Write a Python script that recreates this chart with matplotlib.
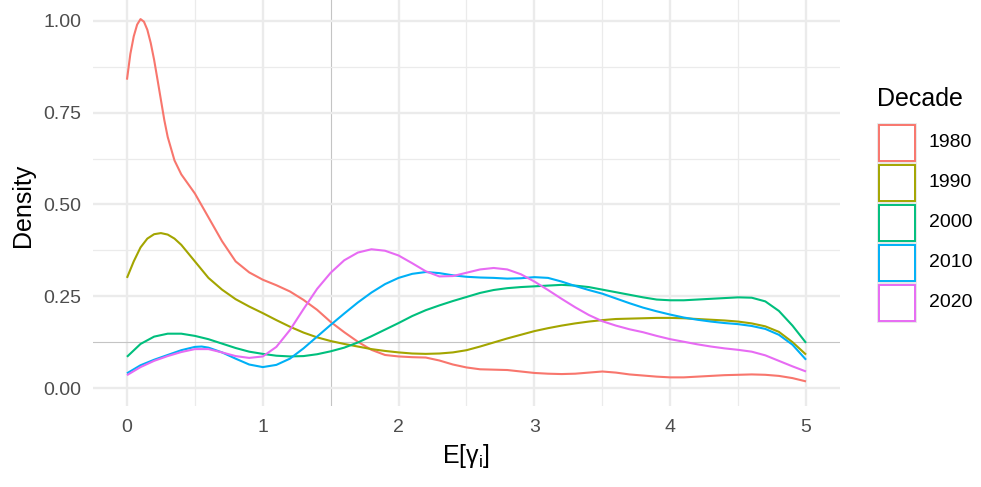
import matplotlib
matplotlib.use("Agg")
import matplotlib.pyplot as plt
from matplotlib.patches import Rectangle

plt.rcParams['font.family'] = ['Liberation Sans', 'DejaVu Sans']
plt.rcParams['mathtext.fontset'] = 'custom'
plt.rcParams['mathtext.rm'] = 'Liberation Sans'

# Density estimates per decade (x = E[gamma_i], y = density)
decades = ["1980", "1990", "2000", "2010", "2020"]
colors = ["#F8766D", "#A3A500", "#00BF7D", "#00B0F6", "#E76BF3"]

x_grid = [0.0, 0.1, 0.2, 0.3, 0.4, 0.5, 0.6, 0.7, 0.8, 0.9,
          1.0, 1.1, 1.2, 1.3, 1.4, 1.5, 1.6, 1.7, 1.8, 1.9,
          2.0, 2.1, 2.2, 2.3, 2.4, 2.5, 2.6, 2.7, 2.8, 2.9,
          3.0, 3.1, 3.2, 3.3, 3.4, 3.5, 3.6, 3.7, 3.8, 3.9,
          4.0, 4.1, 4.2, 4.3, 4.4, 4.5, 4.6, 4.7, 4.8, 4.9, 5.0]

x_1980 = [0.0, 0.025, 0.05, 0.075, 0.1, 0.125, 0.15, 0.175, 0.2, 0.225, 0.25, 0.275, 0.3,
          0.35, 0.4, 0.5, 0.6, 0.7, 0.8, 0.9,
          1.0, 1.1, 1.2, 1.3, 1.4, 1.5, 1.6, 1.7, 1.8, 1.9,
          2.0, 2.1, 2.2, 2.3, 2.4, 2.5, 2.6, 2.7, 2.8, 2.9,
          3.0, 3.1, 3.2, 3.3, 3.4, 3.5, 3.6, 3.7, 3.8, 3.9,
          4.0, 4.1, 4.2, 4.3, 4.4, 4.5, 4.6, 4.7, 4.8, 4.9, 5.0]
y_1980 = [0.84, 0.91, 0.958, 0.99, 1.005, 0.998, 0.976, 0.94, 0.894, 0.84, 0.785, 0.73, 0.684,
          0.62, 0.582, 0.53, 0.465, 0.40, 0.345, 0.315,
          0.295, 0.28, 0.263, 0.24, 0.213, 0.18, 0.152, 0.126, 0.104, 0.09,
          0.086, 0.084, 0.083, 0.075, 0.064, 0.056, 0.051, 0.05, 0.049, 0.045,
          0.041, 0.039, 0.038, 0.039, 0.042, 0.045, 0.042, 0.037, 0.034, 0.031,
          0.029, 0.029, 0.031, 0.033, 0.035, 0.036, 0.037, 0.036, 0.033, 0.027, 0.018]

x_1990 = [0.0, 0.05, 0.1, 0.15, 0.2, 0.25, 0.3, 0.35, 0.4, 0.5, 0.6, 0.7, 0.8, 0.9,
          1.0, 1.1, 1.2, 1.3, 1.4, 1.5, 1.6, 1.7, 1.8, 1.9,
          2.0, 2.1, 2.2, 2.3, 2.4, 2.5, 2.6, 2.7, 2.8, 2.9,
          3.0, 3.1, 3.2, 3.3, 3.4, 3.5, 3.6, 3.7, 3.8, 3.9,
          4.0, 4.1, 4.2, 4.3, 4.4, 4.5, 4.6, 4.7, 4.8, 4.9, 5.0]
y_1990 = [0.30, 0.345, 0.383, 0.407, 0.419, 0.422, 0.418, 0.407, 0.39, 0.345, 0.30, 0.268, 0.242, 0.222,
          0.204, 0.185, 0.167, 0.151, 0.138, 0.128, 0.12, 0.113, 0.106, 0.101,
          0.097, 0.094, 0.093, 0.094, 0.097, 0.103, 0.113, 0.124, 0.135, 0.145,
          0.155, 0.163, 0.17, 0.176, 0.181, 0.185, 0.188, 0.189, 0.19, 0.191,
          0.191, 0.19, 0.188, 0.186, 0.184, 0.181, 0.176, 0.168, 0.153, 0.125, 0.091]

y_2000 = [0.085, 0.12, 0.14, 0.148, 0.148, 0.142, 0.133, 0.121, 0.109, 0.099,
          0.093, 0.088, 0.086, 0.087, 0.092, 0.1, 0.11, 0.124, 0.141, 0.159,
          0.177, 0.196, 0.212, 0.225, 0.237, 0.248, 0.259, 0.267, 0.272, 0.275,
          0.277, 0.279, 0.281, 0.279, 0.275, 0.268, 0.261, 0.254, 0.247, 0.241,
          0.239, 0.239, 0.241, 0.243, 0.245, 0.247, 0.246, 0.236, 0.21, 0.17, 0.123]

x_2010 = [0.0, 0.1, 0.2, 0.3, 0.4, 0.5, 0.55, 0.6, 0.7, 0.8, 0.9,
          1.0, 1.1, 1.2, 1.3, 1.4, 1.5, 1.6, 1.7, 1.8, 1.9,
          2.0, 2.1, 2.2, 2.3, 2.4, 2.5, 2.6, 2.7, 2.8, 2.9,
          3.0, 3.1, 3.2, 3.3, 3.4, 3.5, 3.6, 3.7, 3.8, 3.9,
          4.0, 4.1, 4.2, 4.3, 4.4, 4.5, 4.6, 4.7, 4.8, 4.9, 5.0]
y_2010 = [0.04, 0.062, 0.077, 0.09, 0.103, 0.112, 0.113, 0.11, 0.097, 0.08, 0.064,
          0.057, 0.063, 0.08, 0.108, 0.14, 0.172, 0.203, 0.233, 0.26, 0.283,
          0.3, 0.311, 0.316, 0.313, 0.307, 0.303, 0.301, 0.3, 0.298, 0.299,
          0.302, 0.3, 0.29, 0.278, 0.267, 0.257, 0.244, 0.231, 0.219, 0.209,
          0.2, 0.192, 0.186, 0.181, 0.177, 0.174, 0.169, 0.161, 0.145, 0.118, 0.077]

y_2020 = [0.035, 0.057, 0.074, 0.087, 0.098, 0.106, 0.106, 0.097, 0.087, 0.082,
          0.086, 0.112, 0.158, 0.215, 0.27, 0.314, 0.348, 0.369, 0.378, 0.374,
          0.361, 0.34, 0.318, 0.304, 0.305, 0.314, 0.323, 0.327, 0.323, 0.31,
          0.29, 0.267, 0.243, 0.22, 0.199, 0.182, 0.17, 0.16, 0.152, 0.142,
          0.133, 0.126, 0.119, 0.113, 0.108, 0.104, 0.099, 0.089, 0.074, 0.059, 0.045]

series_x = [x_1980, x_1990, x_grid, x_2010, x_grid]
series_y = [y_1980, y_1990, y_2000, y_2010, y_2020]

x_ticks = [0, 1, 2, 3, 4, 5]
y_ticks = [0.0, 0.25, 0.5, 0.75, 1.0]
y_tick_labels = ["0.00", "0.25", "0.50", "0.75", "1.00"]

W, H = 981, 487
fig = plt.figure(figsize=(W / 100, H / 100), dpi=100)
fig.patch.set_facecolor("white")
ax = fig.add_axes([93 / W, (H - 406) / H, (840 - 93) / W, 406 / H])
ax.set_xlim(-0.25, 5.25)
ax.set_ylim(-0.049, 1.057)
for s in ax.spines.values():
    s.set_visible(False)

grid_col = "#EBEBEB"
# major and minor grid
for xv in x_ticks:
    ax.axvline(xv, color=grid_col, lw=1.7, zorder=0)
for xv in [0.5, 2.5, 3.5, 4.5]:
    ax.axvline(xv, color=grid_col, lw=0.9, zorder=0)
ax.axvline(1.5, color="#C4C4C4", lw=0.8, zorder=0)
for yv in y_ticks:
    ax.axhline(yv, color=grid_col, lw=1.7, zorder=0)
for yv in [0.375, 0.625, 0.875]:
    ax.axhline(yv, color=grid_col, lw=0.9, zorder=0)
ax.axhline(0.125, color="#C4C4C4", lw=0.8, zorder=0)

for xs, ys, c in zip(series_x, series_y, colors):
    ax.plot(xs, ys, color=c, lw=1.5, solid_joinstyle="round", solid_capstyle="butt", zorder=3)

ax.set_xticks(x_ticks)
ax.set_xticklabels([str(v) for v in x_ticks])
ax.set_yticks(y_ticks)
ax.set_yticklabels(y_tick_labels)
ax.tick_params(axis="both", length=0, labelsize=14, labelcolor="#4D4D4D")
ax.tick_params(axis="x", pad=9)
ax.tick_params(axis="y", pad=8.5)

fig.text(23 / W, 1 - 205 / H, "Density", rotation=90, ha="center", va="center",
         fontsize=18, color="black")
fig.text(466 / W, 1 - 463 / H, r"E[γ$_\mathregular{i}$]", ha="center", va="baseline",
         fontsize=18, color="black")

# legend
fig.text(877 / W, 1 - 106 / H, "Decade", ha="left", va="baseline", fontsize=18, color="black")
for i, (lab, c) in enumerate(zip(decades, colors)):
    top = 123 + 40 * i
    fig.add_artist(Rectangle((877 / W, 1 - (top + 39) / H), 39 / W, 39 / H,
                             transform=fig.transFigure, facecolor="white",
                             edgecolor="#E4E4E4", lw=0.6))
    fig.add_artist(Rectangle((878.5 / W, 1 - (top + 37.5) / H), 36 / W, 36 / H,
                             transform=fig.transFigure, facecolor="white",
                             edgecolor=c, lw=1.4))
    fig.text(929 / W, 1 - (top + 19.5) / H, lab, ha="left", va="center",
             fontsize=14, color="black")

fig.savefig("out.png", dpi=100)
